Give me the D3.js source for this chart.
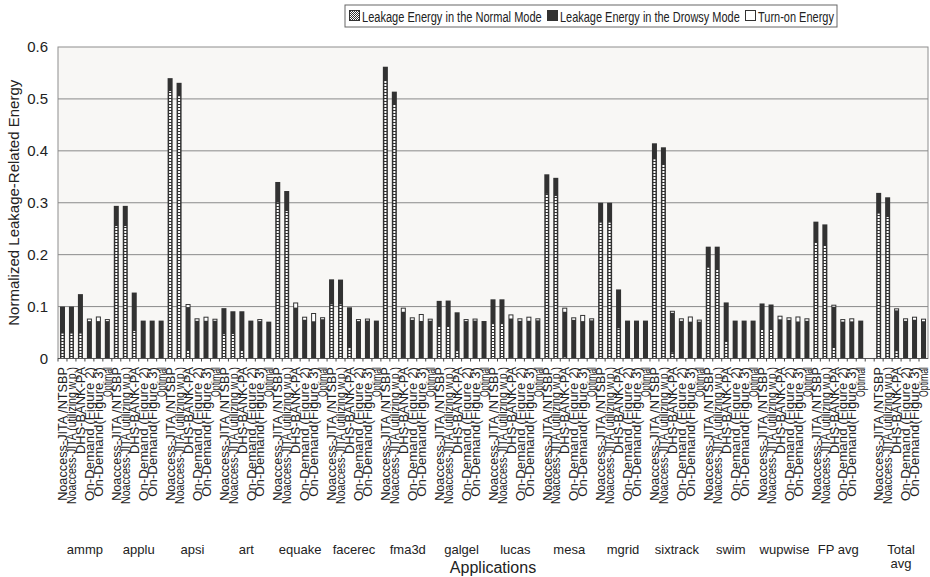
<!DOCTYPE html>
<html>
<head>
<meta charset="utf-8">
<script src="https://cdn.jsdelivr.net/npm/d3@7"></script>
<style>
  body { margin: 0; background: #fff; }
  svg { display: block; }
  text { font-family: "Liberation Sans", Arial, Helvetica, sans-serif; fill: #222; }
</style>
</head>
<body>
<svg id="chart" width="930" height="577"></svg>
<script>
// Benchmarks (14 SPEC FP apps plus two averages)
const groups = ["ammp", "applu", "apsi", "art", "equake", "facerec", "fma3d", "galgel",
                "lucas", "mesa", "mgrid", "sixtrack", "swim", "wupwise", "FP avg", "Total avg"];

// Leakage-control schemes, one bar each per benchmark
const schemes = ["Noaccess-JITA /NTSBP", "Noaccess-JITA (utilizing w.p.)", "DHS-BANK-PA",
                 "On-Demand (Figure 2)", "On-Demand(Figure 3)", "Optimal"];

// Leakage energy in the normal mode (bottom segment), per benchmark x scheme
const normalMode = [
  [0.050, 0.050, 0.050, 0, 0, 0],
  [0.257, 0.257, 0.055, 0, 0, 0],
  [0.517, 0.507, 0.018, 0, 0, 0],
  [0.0485, 0.049, 0.018, 0, 0, 0],
  [0.302, 0.286, 0.003, 0, 0, 0],
  [0.106, 0.106, 0.024, 0, 0, 0],
  [0.538, 0.4915, 0.003, 0, 0, 0],
  [0.0645, 0.0645, 0.016, 0, 0, 0],
  [0.068, 0.068, 0.003, 0, 0, 0],
  [0.319, 0.315, 0.004, 0, 0, 0],
  [0.2636, 0.2636, 0.060, 0, 0, 0],
  [0.3856, 0.376, 0.013, 0, 0, 0],
  [0.1768, 0.1736, 0.0356, 0, 0, 0],
  [0.058, 0.057, 0.003, 0, 0, 0],
  [0.226, 0.2186, 0.023, 0, 0, 0],
  [0.281, 0.2745, 0.016, 0, 0, 0]
];

// Leakage energy in the drowsy mode (middle segment)
const drowsyMode = [
  [0.050, 0.050, 0.074, 0.072, 0.072, 0.072],
  [0.037, 0.037, 0.072, 0.073, 0.073, 0.073],
  [0.023, 0.024, 0.081, 0.0725, 0.0726, 0.0727],
  [0.0485, 0.042, 0.073, 0.073, 0.072, 0.071],
  [0.038, 0.0366, 0.095, 0.0746, 0.0717, 0.0756],
  [0.0465, 0.046, 0.0746, 0.072, 0.073, 0.073],
  [0.024, 0.0225, 0.087, 0.0744, 0.0723, 0.0728],
  [0.0465, 0.0471, 0.073, 0.072, 0.073, 0.0722],
  [0.046, 0.046, 0.074, 0.0725, 0.0726, 0.0735],
  [0.0358, 0.033, 0.086, 0.0744, 0.072, 0.0735],
  [0.0364, 0.0364, 0.073, 0.073, 0.073, 0.073],
  [0.0289, 0.0308, 0.075, 0.0725, 0.071, 0.071],
  [0.0386, 0.0418, 0.0724, 0.073, 0.073, 0.073],
  [0.048, 0.047, 0.0725, 0.0744, 0.0713, 0.0725],
  [0.0376, 0.0397, 0.0767, 0.071, 0.0715, 0.073],
  [0.038, 0.036, 0.0767, 0.0725, 0.0746, 0.0718]
];

// Turn-on energy (top segment)
const turnOnEnergy = [
  [0, 0, 0, 0.003, 0.007, 0.002],
  [0, 0, 0, 0, 0, 0],
  [0, 0, 0.004, 0.003, 0.006, 0.002],
  [0, 0, 0, 0, 0.002, 0],
  [0, 0, 0.008, 0.004, 0.014, 0.002],
  [0, 0, 0, 0.002, 0.002, 0],
  [0, 0, 0.006, 0.003, 0.0115, 0.002],
  [0, 0, 0, 0.002, 0.002, 0],
  [0, 0, 0.006, 0.003, 0.006, 0.002],
  [0, 0, 0.006, 0.003, 0.010, 0.002],
  [0, 0, 0, 0, 0, 0],
  [0, 0, 0.002, 0.003, 0.008, 0.002],
  [0, 0, 0, 0, 0, 0],
  [0, 0, 0.005, 0.003, 0.0077, 0.003],
  [0, 0, 0.002, 0.003, 0.004, 0],
  [0, 0, 0.002, 0.003, 0.004, 0.003]
];

const yTicks = [0, 0.1, 0.2, 0.3, 0.4, 0.5, 0.6];
const legendLabels = ["Leakage Energy in the Normal Mode", "Leakage Energy in the Drowsy Mode", "Turn-on Energy"];

// ---- layout & style ----
const plot = { left: 58, right: 928, top: 47, bottom: 358.5 };
const DARK = "#323232";
const schemeLabelLength = [134, 137, 87, 134, 130, 30];

const svg = d3.select("#chart");

// squeeze a text horizontally (in its own frame) to a given width
function fitWidth(sel, target, tx, ty, rot) {
  const natural = sel.node().getComputedTextLength();
  const k = natural > 0 ? target / natural : 1;
  sel.attr("transform", `translate(${tx},${ty})${rot ? ` rotate(${rot})` : ""} scale(${k},1)`);
}

// one slot per bar, with an empty slot separating the overall average
const GAP = "gap";
const keys = [];
groups.forEach((g, gi) => {
  if (gi === groups.length - 1) keys.push(GAP);
  schemes.forEach((s, si) => keys.push(gi + "|" + si));
});

const x = d3.scaleBand().domain(keys).range([plot.left, plot.right])
  .paddingInner(0.44).paddingOuter(0.22);
const y = d3.scaleLinear().domain([0, 0.6]).range([plot.bottom, plot.top]);

// patterns
const defs = svg.append("defs");
const dots = defs.append("pattern").attr("id", "dots")
  .attr("patternUnits", "userSpaceOnUse").attr("width", 10).attr("height", 3);
dots.append("rect").attr("width", 10).attr("height", 3).attr("fill", DARK);
dots.append("rect").attr("width", 10).attr("height", 2).attr("fill", "#fff");

const checker = defs.append("pattern").attr("id", "checker")
  .attr("patternUnits", "userSpaceOnUse").attr("width", 2).attr("height", 2);
checker.append("rect").attr("width", 2).attr("height", 2).attr("fill", DARK);
checker.append("rect").attr("width", 1).attr("height", 1).attr("fill", "#fff");
checker.append("rect").attr("x", 1).attr("y", 1).attr("width", 1).attr("height", 1).attr("fill", "#fff");

// plot background
svg.append("rect")
  .attr("x", plot.left).attr("y", plot.top)
  .attr("width", plot.right - plot.left).attr("height", plot.bottom - plot.top)
  .attr("fill", "#f8f7f5").attr("stroke", "#8e8e8e").attr("stroke-width", 1);

// gridlines
svg.append("g").selectAll("line").data(yTicks.filter(t => t > 0 && t < 0.6)).join("line")
  .attr("x1", plot.left).attr("x2", plot.right)
  .attr("y1", d => y(d)).attr("y2", d => y(d))
  .attr("stroke", "#8a8a8a").attr("stroke-width", 1);

// y axis labels
const yAxis = d3.axisLeft(y).tickValues(yTicks).tickSize(0).tickPadding(10)
  .tickFormat(d => d === 0 ? "0" : d3.format(".1f")(d));
const yg = svg.append("g").attr("transform", `translate(${plot.left},0)`).call(yAxis);
yg.select(".domain").remove();
yg.selectAll("text").attr("font-size", 15).attr("fill", "#222")
  .style("font-family", '"Liberation Sans", Arial, sans-serif');

// bars
const bars = [];
groups.forEach((g, gi) => schemes.forEach((s, si) => {
  bars.push({ key: gi + "|" + si, n: normalMode[gi][si], d: drowsyMode[gi][si], t: turnOnEnergy[gi][si] });
}));
const bw = x.bandwidth();
const barG = svg.append("g");
bars.forEach(b => {
  const x0 = x(b.key);
  const total = b.n + b.d + b.t;
  const top = y(total) - (b.t > 0 ? 1 : 0);
  barG.append("rect").attr("x", x0).attr("width", bw)
    .attr("y", top).attr("height", y(0) - top).attr("fill", DARK);
  if (b.n > 0) {
    barG.append("rect").attr("x", x0 + 1.5).attr("width", bw - 3)
      .attr("y", y(b.n) + 1).attr("height", Math.max(0, y(0) - y(b.n) - 1))
      .attr("fill", "url(#dots)");
  }
  if (b.t > 0) {
    barG.append("rect").attr("x", x0 + 1).attr("width", bw - 2)
      .attr("y", y(total)).attr("height", y(b.n + b.d) - y(total))
      .attr("fill", "#fff");
  }
});

// x axis line and ticks
svg.append("line").attr("x1", plot.left).attr("x2", plot.right)
  .attr("y1", plot.bottom).attr("y2", plot.bottom).attr("stroke", "#555");
const step = x.step();
svg.append("g").selectAll("line").data(keys).join("line")
  .attr("x1", d => x(d) - step * 0.22).attr("x2", d => x(d) - step * 0.22)
  .attr("y1", plot.bottom).attr("y2", plot.bottom + 3)
  .attr("stroke", "#444");

// scheme labels under every bar
const labG = svg.append("g");
bars.forEach(b => {
  const si = +b.key.split("|")[1];
  const t = labG.append("text")
    .attr("dy", "0.36em").attr("text-anchor", "end")
    .attr("font-size", 13)
    .text(schemes[si]);
  fitWidth(t, schemeLabelLength[si], x(b.key) + bw / 2, 367, -90);
});

// benchmark names
groups.forEach((g, gi) => {
  const first = x(gi + "|0"), last = x(gi + "|" + (schemes.length - 1)) + bw;
  const cx = (first + last) / 2;
  const words = g === "Total avg" ? g.split(" ") : [g];
  const t = svg.append("text").attr("x", cx).attr("y", 554)
    .attr("text-anchor", "middle").attr("font-size", 13);
  words.forEach((w, i) => t.append("tspan").attr("x", cx).attr("dy", i === 0 ? 0 : 14).text(w));
});

// axis titles
svg.append("text").attr("x", (plot.left + plot.right) / 2).attr("y", 573)
  .attr("text-anchor", "middle").attr("font-size", 16).text("Applications");
svg.append("text")
  .attr("transform", `translate(19,${(plot.top + plot.bottom) / 2}) rotate(-90)`)
  .attr("text-anchor", "middle").attr("font-size", 15)
  .text("Normalized Leakage-Related Energy");

// legend
const lg = svg.append("g");
const box = { x: 345, y: 5, w: 492, h: 22 };
lg.append("rect").attr("x", box.x).attr("y", box.y).attr("width", box.w).attr("height", box.h)
  .attr("fill", "#fff").attr("stroke", "#666");
const sw = 11, textLens = [180, 180, 76];
let cx = box.x + 4;
legendLabels.forEach((lab, i) => {
  const fill = i === 0 ? "url(#checker)" : i === 1 ? DARK : "#fff";
  lg.append("rect").attr("x", cx + 0.5).attr("y", box.y + 5.5).attr("width", sw - 1).attr("height", sw - 1)
    .attr("fill", fill).attr("stroke", DARK).attr("stroke-width", 1);
  cx += sw + 2;
  const t = lg.append("text").attr("font-size", 15).text(lab);
  fitWidth(t, textLens[i], cx, box.y + 16.5, 0);
  cx += textLens[i] + 5;
});
</script>
</body>
</html>
